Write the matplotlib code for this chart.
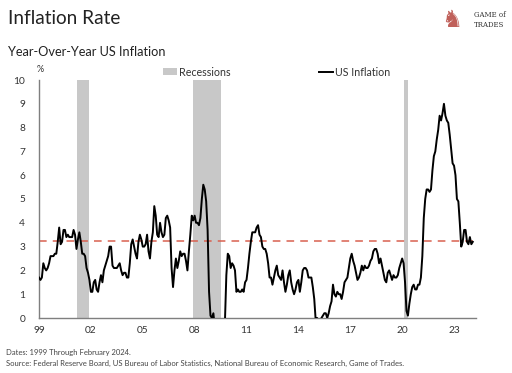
import matplotlib
matplotlib.use("Agg")
import matplotlib.pyplot as plt
import numpy as np
from matplotlib.patches import Patch
from matplotlib.lines import Line2D

plt.rcParams['font.family'] = ['Lato', 'DejaVu Sans']

# Monthly YoY US CPI inflation (%), Jan 1999 - Feb 2024
cpi_1999_2011 = [
    1.7, 1.6, 1.7, 2.3, 2.1, 2.0, 2.1, 2.3, 2.6, 2.6, 2.6, 2.7,
    2.7, 3.2, 3.8, 3.1, 3.2, 3.7, 3.7, 3.4, 3.5, 3.4, 3.4, 3.4,
    3.7, 3.5, 2.9, 3.3, 3.6, 3.2, 2.7, 2.7, 2.6, 2.1, 1.9, 1.6,
    1.1, 1.1, 1.5, 1.6, 1.2, 1.1, 1.5, 1.8, 1.5, 2.0, 2.2, 2.4,
    2.6, 3.0, 3.0, 2.2, 2.1, 2.1, 2.1, 2.2, 2.3, 2.0, 1.8, 1.9,
    1.9, 1.7, 1.7, 2.3, 3.1, 3.3, 3.0, 2.7, 2.5, 3.2, 3.5, 3.3,
    3.0, 3.0, 3.1, 3.5, 2.8, 2.5, 3.2, 3.6, 4.7, 4.3, 3.5, 3.4,
    4.0, 3.6, 3.4, 3.5, 4.2, 4.3, 4.1, 3.8, 2.1, 1.3, 2.0, 2.5,
    2.1, 2.4, 2.8, 2.6, 2.7, 2.7, 2.4, 2.0, 2.8, 3.5, 4.3, 4.1,
    4.3, 4.0, 4.0, 3.9, 4.2, 5.0, 5.6, 5.4, 4.9, 3.7, 1.1, 0.1,
    0.0, 0.2, -0.4, -0.7, -1.3, -1.4, -2.1, -1.5, -1.3, -0.2, 1.8, 2.7,
    2.6, 2.1, 2.3, 2.2, 2.0, 1.1, 1.2, 1.1, 1.1, 1.2, 1.1, 1.5,
    1.6, 2.1, 2.7, 3.2, 3.6, 3.6, 3.6, 3.8, 3.9, 3.5, 3.4, 3.0,
]
cpi_2012_2024 = [
    2.9, 2.9, 2.7, 2.3, 1.7, 1.7, 1.4, 1.7, 2.0, 2.2, 1.8, 1.7,
    1.6, 2.0, 1.5, 1.1, 1.4, 1.8, 2.0, 1.5, 1.2, 1.0, 1.2, 1.5,
    1.6, 1.1, 1.5, 2.0, 2.1, 2.1, 2.0, 1.7, 1.7, 1.7, 1.3, 0.8,
    -0.1, 0.0, -0.1, -0.2, 0.0, 0.1, 0.2, 0.2, 0.0, 0.2, 0.5, 0.7,
    1.4, 1.0, 0.9, 1.1, 1.0, 1.0, 0.8, 1.1, 1.5, 1.6, 1.7, 2.1,
    2.5, 2.7, 2.4, 2.2, 1.9, 1.6, 1.7, 1.9, 2.2, 2.0, 2.2, 2.1,
    2.1, 2.2, 2.4, 2.5, 2.8, 2.9, 2.9, 2.7, 2.3, 2.5, 2.2, 1.9,
    1.6, 1.5, 1.9, 2.0, 1.8, 1.6, 1.8, 1.7, 1.7, 1.8, 2.1, 2.3,
    2.5, 2.3, 1.5, 0.3, 0.1, 0.6, 1.0, 1.3, 1.4, 1.2, 1.2, 1.4,
    1.4, 1.7, 2.6, 4.2, 5.0, 5.4, 5.4, 5.3, 5.4, 6.2, 6.8, 7.0,
    7.5, 7.9, 8.5, 8.3, 8.6, 9.0, 8.5, 8.3, 8.2, 7.7, 7.1, 6.5,
    6.4, 6.0, 5.0, 4.9, 4.0, 3.0, 3.2, 3.7, 3.7, 3.2, 3.1, 3.4,
    3.1, 3.2,
]
inflation = cpi_1999_2011 + cpi_2012_2024
start_year = 1999

# Recession periods (decimal years)
recession_starts = [2001.17, 2007.92, 2020.08]
recession_ends = [2001.92, 2009.5, 2020.33]

reference_level = 3.25

tick_years = [1999, 2002, 2005, 2008, 2011, 2014, 2017, 2020, 2023]
tick_labels = ['99', '02', '05', '08', '11', '14', '17', '20', '23']

x = start_year + np.arange(len(inflation)) / 12.0

fig = plt.figure(figsize=(5.12, 3.73), dpi=100)
ax = fig.add_axes([39/512, 1-318/373, (476-39)/512, (318-80)/373])

gray = '#c8c8c8'
for s, e in zip(recession_starts, recession_ends):
    ax.axvspan(s, e, color=gray, lw=0, zorder=1)

ax.plot(x, inflation, color='black', lw=1.4, zorder=3)
ax.axhline(reference_level, color='#d9604f', lw=1.1, ls=(0, (5, 4)), zorder=2)

ax.set_xlim(1999, 2024.27)
ax.set_ylim(0, 10)
ax.set_yticks(range(0, 11))
ax.set_xticks(tick_years)
ax.set_xticklabels(tick_labels)
ax.tick_params(axis='both', length=0, labelsize=7.3, colors='#333333', pad=6)
ax.tick_params(axis='y', pad=10)
for sp in ['top', 'right']:
    ax.spines[sp].set_visible(False)
for sp in ['left', 'bottom']:
    ax.spines[sp].set_color('#7f7f7f')
    ax.spines[sp].set_linewidth(1.0)

fig.text(40/512, 1-70/373, '%', fontsize=6.5, color='#333333', ha='center', va='center')

# Legend (manual placement)
handles = [Patch(facecolor=gray, edgecolor='none'), Line2D([], [], color='black', lw=1.4)]
leg = fig.legend(handles, ['Recessions', 'US Inflation'], loc='center left',
                 bbox_to_anchor=(163/512, 1-72/373), ncol=2, frameon=False,
                 fontsize=7.7, handlelength=1.3, handleheight=0.65, handletextpad=0.2,
                 columnspacing=8.3, borderaxespad=0, borderpad=0)
for t in leg.get_texts():
    t.set_color('#333333')

# Titles
fig.text(8/512, 1-19/373, 'Inflation Rate', fontsize=13.7, color='#222222', ha='left', va='center')
fig.text(8/512, 1-52/373, 'Year-Over-Year US Inflation', fontsize=9.2, color='#222222', ha='left', va='center')

# Logo
fig.text(452/512, 1-20/373, '\u265e', fontsize=17, color='#c0605a', ha='center', va='center',
         family='DejaVu Sans')
fig.text(474/512, 1-15/373, 'GAME of', fontsize=5, color='#333333', ha='left', va='center',
         family='DejaVu Serif')
fig.text(474/512, 1-25/373, 'TRADES', fontsize=5, color='#333333', ha='left', va='center',
         family='DejaVu Serif')

# Footnotes
fig.text(6/512, 1-352/373, 'Dates: 1999 Through February 2024.', fontsize=5.5,
         color='#444444', ha='left', va='center')
fig.text(6/512, 1-363/373,
         'Source: Federal Reserve Board, US Bureau of Labor Statistics, National Bureau of Economic Research, Game of Trades.',
         fontsize=5.5, color='#444444', ha='left', va='center')

fig.savefig('out.png', dpi=100)
